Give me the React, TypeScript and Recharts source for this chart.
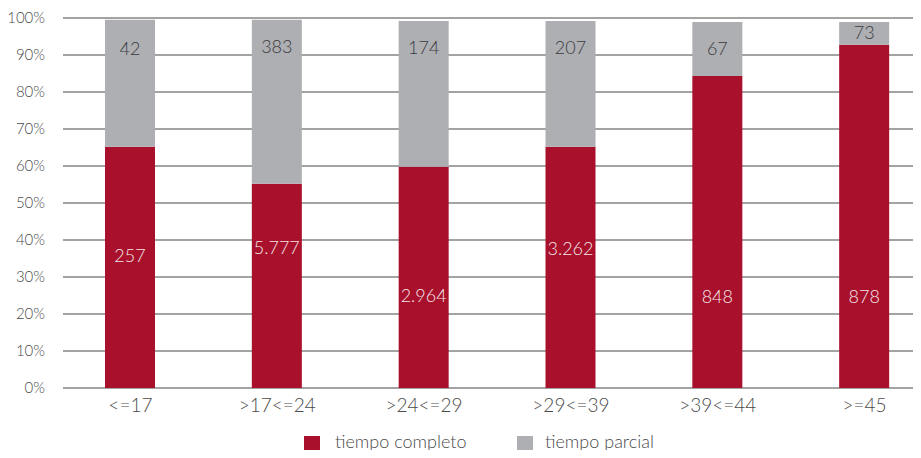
import React from 'react';
import { BarChart, Bar, XAxis, YAxis, CartesianGrid, LabelList, Legend } from 'recharts';

const categories = ['<=17', '>17<=24', '>24<=29', '>29<=39', '>39<=44', '>=45'];
const completoPct = [65.2, 55.2, 59.8, 65.2, 84.3, 92.8];
const parcialPct = [34.3, 44.3, 39.4, 34.0, 14.6, 6.1];
const completoLabels = ['257', '5.777', '2.964', '3.262', '848', '878'];
const parcialLabels = ['42', '383', '174', '207', '67', '73'];
const completoLabelPos = [35.9, 38.1, 25.1, 37.8, 24.9, 24.9];
const parcialLabelPos = [91.9, 92.4, 92.2, 92.2, 92.0, 96.1];
const yTicks = [0, 10, 20, 30, 40, 50, 60, 70, 80, 90, 100];

const RED = '#A8102C';
const GRAY = '#AEAFB3';
const TEXT = '#4a4a4a';
const FONT = 'Lato, "Open Sans", sans-serif';

const data = categories.map((c, i) => ({
  cat: c,
  completo: completoPct[i],
  parcial: parcialPct[i],
}));

const makeLabel = (labels: string[], pos: number[], base: (i: number) => number, vals: number[], color: string) =>
  (props: any) => {
    const vb = props.viewBox && props.viewBox.width !== undefined ? props.viewBox : props;
    const { x, y, width, height } = vb;
    const i = props.index;
    if (i === undefined || i === null) return null;
    const bottom = y + height;
    const pxPer = height / vals[i];
    const ty = bottom - (pos[i] - base(i)) * pxPer;
    return (
      <text
        x={x + width / 2}
        y={ty}
        textAnchor="middle"
        dominantBaseline="central"
        fill={color}
        fontFamily={FONT}
        fontWeight={300}
        fontSize={18}
      >
        {labels[i]}
      </text>
    );
  };

const renderGridLine = (props: any) => {
  const { x1, x2, y1, y2, index } = props;
  return (
    <line
      key={`g-${index}-${y1}`}
      x1={x1 + 6}
      x2={x2}
      y1={y1}
      y2={y2}
      stroke="#858585"
      strokeWidth={1.6}
    />
  );
};

const renderLegend = () => (
  <svg width={938} height={28} style={{ display: 'block', overflow: 'visible' }}>
    <rect x={304} y={6} width={16} height={16} fill={RED} />
    <text x={335} y={18} fontFamily={FONT} fontWeight={300} fontSize={18} fill={TEXT}>tiempo completo</text>
    <rect x={517} y={6} width={16} height={16} fill={GRAY} />
    <text x={545} y={18} fontFamily={FONT} fontWeight={300} fontSize={18} fill={TEXT}>tiempo parcial</text>
  </svg>
);

export default function App() {
  return (
    <div style={{ position: 'relative', margin: -8, width: 921, height: 458, overflow: 'hidden', background: '#fff' }}>
      <BarChart
        width={938}
        height={458}
        data={data}
        margin={{ top: 18, right: 0, bottom: 40, left: 0 }}
        barCategoryGap={0}
      >
        <CartesianGrid vertical={false} horizontal={renderGridLine} />
        <XAxis
          dataKey="cat"
          axisLine={false}
          tickLine={false}
          tickMargin={5}
          height={30}
          tick={{ fill: TEXT, fontSize: 19, fontFamily: FONT, fontWeight: 300 }}
        />
        <YAxis
          width={57}
          domain={[0, 100]}
          ticks={yTicks}
          axisLine={false}
          tickLine={false}
          tickMargin={6}
          tickFormatter={(v: number) => `${v}%`}
          tick={{ fill: TEXT, fontSize: 15, fontFamily: FONT, fontWeight: 300 }}
        />
        <Legend
          layout="horizontal"
          verticalAlign="middle"
          align="center"
          wrapperStyle={{ top: 430, left: 0, width: 938 }}
          content={renderLegend}
        />
        <Bar dataKey="completo" stackId="a" fill={RED} barSize={50} isAnimationActive={false}>
          <LabelList
            dataKey="completo"
            content={makeLabel(completoLabels, completoLabelPos, () => 0, completoPct, '#F3E6E8')}
          />
        </Bar>
        <Bar dataKey="parcial" stackId="a" fill={GRAY} barSize={50} isAnimationActive={false}>
          <LabelList
            dataKey="parcial"
            content={makeLabel(parcialLabels, parcialLabelPos, (i) => completoPct[i], parcialPct, '#3A3A3E')}
          />
        </Bar>
      </BarChart>
    </div>
  );
}
